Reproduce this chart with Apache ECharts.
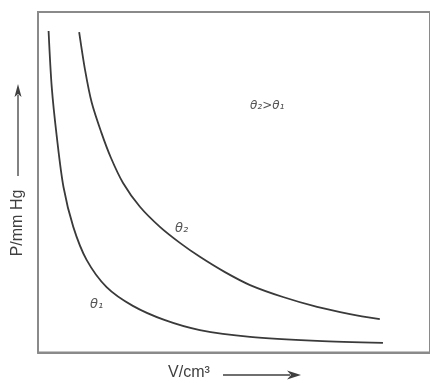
<!DOCTYPE html>
<html>
<head>
<meta charset="utf-8">
<script src="https://cdn.jsdelivr.net/npm/echarts@6/dist/echarts.min.js"></script>
<style>
html,body{margin:0;padding:0;background:#fff;}
#c{width:430px;height:383px;}
</style>
</head>
<body>
<div id="c"></div>
<script>
// Volume (arbitrary units) and pressure (arbitrary units)
var theta1V = [2.7, 3.5, 4.8, 6.5, 9.0, 12.4, 17.5, 24.2, 32.4, 41.3, 54.1, 71.2, 88.0];
var theta1P = [94.4, 78.0, 63.3, 48.6, 36.9, 27.2, 19.2, 13.7, 9.5, 6.6, 4.6, 3.4, 2.8];
var theta2V = [10.5, 12.0, 13.7, 16.1, 18.6, 21.7, 26.0, 31.1, 36.2, 41.3, 47.7, 54.1, 62.5, 71.2, 79.6, 87.2];
var theta2P = [94.1, 83.0, 73.4, 64.8, 57.2, 49.8, 42.8, 36.9, 32.2, 28.1, 23.6, 19.8, 16.3, 13.4, 11.3, 9.8];
var seriesNames = ['θ1', 'θ2'];
var xLabel = 'V/cm³';
var yLabel = 'P/mm Hg';
var relationText = 'θ₂>θ₁';

function pairs(xs, ys){ return xs.map(function(v,i){ return [v, ys[i]]; }); }

var chart = echarts.init(document.getElementById('c'), null, {renderer:'canvas'});
var frameColor = '#8a8a8a';
var curveColor = '#3a3a3a';
var textColor = '#3f3f3f';

chart.setOption({
  animation: false,
  backgroundColor: '#ffffff',
  grid: {left: 38, right: 0, top: 12, bottom: 30.5, show: true, borderColor: frameColor, borderWidth: 2},
  xAxis: {type: 'value', min: 0, max: 100,
    axisLine: {show: true, lineStyle: {color: frameColor, width: 2}},
    axisTick: {show: false}, axisLabel: {show: false}, splitLine: {show: false}},
  yAxis: {type: 'value', min: 0, max: 100,
    axisLine: {show: true, lineStyle: {color: frameColor, width: 2}},
    axisTick: {show: false}, axisLabel: {show: false}, splitLine: {show: false}},
  series: [
    {name: seriesNames[0], type: 'line', data: pairs(theta1V, theta1P), smooth: 0.3, showSymbol: false,
     lineStyle: {color: curveColor, width: 1.8}},
    {name: seriesNames[1], type: 'line', data: pairs(theta2V, theta2P), smooth: 0.3, showSymbol: false,
     lineStyle: {color: curveColor, width: 1.8}}
  ],
  graphic: [
    {type: 'text', left: 250, top: 100, style: {text: relationText, fill: '#555', font: 'italic 12px "DejaVu Sans", sans-serif'}},
    {type: 'text', left: 175, top: 222, style: {text: 'θ₂', fill: '#555', font: 'italic 13px "DejaVu Sans", sans-serif'}},
    {type: 'text', left: 90, top: 298, style: {text: 'θ₁', fill: '#555', font: 'italic 13px "DejaVu Sans", sans-serif'}},
    // y axis name
    {type: 'text', x: 18, y: 223, rotation: Math.PI/2,
     style: {text: yLabel, fill: textColor, font: '16px "Liberation Sans", Arial, sans-serif', align: 'center', verticalAlign: 'middle'}},
    {type: 'line', shape: {x1: 18, y1: 176, x2: 18, y2: 95}, style: {stroke: textColor, lineWidth: 1.3}},
    {type: 'polygon', shape: {points: [[18, 84], [14.5, 97], [18, 94], [21.5, 97]]}, style: {fill: textColor}},
    // x axis name
    {type: 'text', x: 189, y: 373,
     style: {text: xLabel, fill: textColor, font: '16px "Liberation Sans", Arial, sans-serif', align: 'center', verticalAlign: 'middle'}},
    {type: 'line', shape: {x1: 223, y1: 375, x2: 290, y2: 375}, style: {stroke: textColor, lineWidth: 1.3}},
    {type: 'polygon', shape: {points: [[301, 375], [287, 370.5], [291, 375], [287, 379.5]]}, style: {fill: textColor}}
  ]
});
</script>
</body>
</html>
